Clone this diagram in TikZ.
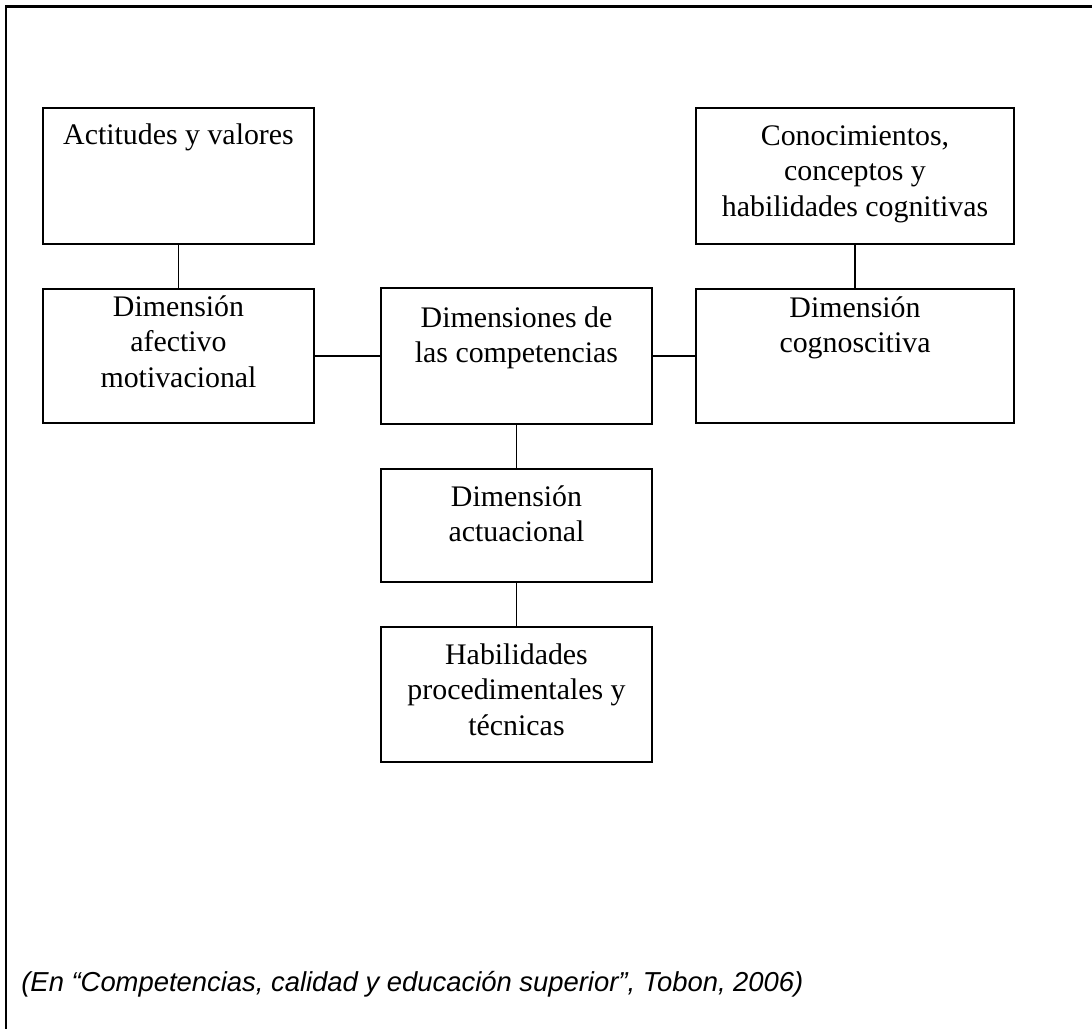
\documentclass[tikz,border=0pt]{standalone}
\usepackage{fontspec}
\setmainfont{Liberation Serif}
\newfontfamily\capfont{Liberation Sans}
\usetikzlibrary{positioning}

\begin{document}
\begin{tikzpicture}[x=0.02cm, y=-0.02cm,
  box/.style={draw, line width=1pt, minimum width=5.42cm, inner sep=0pt},
  widebox/.style={box, minimum width=6.36cm},
  lbl/.style={inner sep=0pt, align=center, font=\fontsize{17}{20.2}\selectfont},
  link/.style={line width=0.7pt},
  frame/.style={line width=1.6pt}]

% Page and outer frame
\useasboundingbox (0,0) rectangle (1092,1028);
\clip (0,0) rectangle (1092,1028);
\draw[frame] (6,6.5) rectangle (1120,1060);

% Left column
\node[box, minimum height=2.72cm] (actitudes) at (178.5,176) {};
\node[box, minimum height=2.68cm] (afectivo) at (178.5,356) {};

% Centre column
\node[box, minimum height=2.72cm] (dimensiones) at (516.5,356) {};
\node[box, minimum height=2.26cm] (actuacional) at (516.5,525.5) {};
\node[box, minimum height=2.70cm] (habilidades) at (516.5,694.5) {};

% Right column
\node[widebox, minimum height=2.72cm] (conocimientos) at (855,176) {};
\node[widebox, minimum height=2.68cm] (cognoscitiva) at (855,356) {};

% Texts, set from the top of each box
\node[lbl, below=0.32cm of actitudes.north] (tactitudes) {Actitudes y valores};
\node[lbl, below=0.14cm of afectivo.north] (tafectivo) {Dimensión\\afectivo\\motivacional};
\node[lbl, below=0.38cm of dimensiones.north] (tdimensiones) {Dimensiones de\\las competencias};
\node[lbl, below=0.34cm of actuacional.north] (tactuacional) {Dimensión\\actuacional};
\node[lbl, below=0.34cm of habilidades.north] (thabilidades) {Habilidades\\procedimentales y\\técnicas};
\node[lbl, below=0.36cm of conocimientos.north] (tconocimientos) {Conocimientos,\\conceptos y\\habilidades cognitivas};
\node[lbl, below=0.16cm of cognoscitiva.north] (tcognoscitiva) {Dimensión\\cognoscitiva};

% Links
\draw[link] (actitudes) -- (afectivo);
\draw[link] (afectivo) -- (dimensiones);
\draw[link] (dimensiones) -- (cognoscitiva);
\draw[link] (conocimientos) -- (cognoscitiva);
\draw[link] (dimensiones) -- (actuacional);
\draw[link] (actuacional) -- (habilidades);

% Source
\node[anchor=base west, inner sep=0pt, font=\capfont\itshape\fontsize{15.6}{18}\selectfont]
  (fuente) at (21,991) {(En “Competencias, calidad y educación superior”, Tobon, 2006)};

\end{tikzpicture}
\end{document}
